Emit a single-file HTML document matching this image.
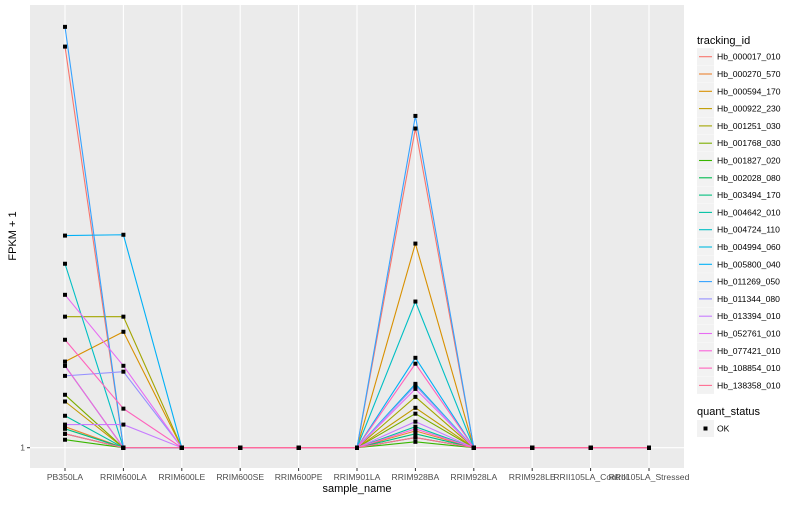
<!DOCTYPE html>
<html><head><meta charset="utf-8"><style>
body{margin:0;background:#fff;font-family:"Liberation Sans",sans-serif}
svg text{font-family:"Liberation Sans",sans-serif}
</style></head><body>
<svg id="c" width="800" height="500" xmlns="http://www.w3.org/2000/svg">
<rect x="0" y="0" width="800" height="500" fill="#fff"/>
<rect x="30" y="5" width="654" height="463" fill="#EBEBEB"/>
<g id="grid"></g><g id="lines"></g><g id="pts"></g><g id="axes"></g><g id="legend"></g>
</svg>
<script>
const categories=["PB350LA","RRIM600LA","RRIM600LE","RRIM600SE","RRIM600PE","RRIM901LA","RRIM928BA","RRIM928LA","RRIM928LE","RRII105LA_Control","RRII105LA_Stressed"];
const seriesNames=["Hb_000017_010","Hb_000270_570","Hb_000594_170","Hb_000922_230","Hb_001251_030","Hb_001768_030","Hb_001827_020","Hb_002028_080","Hb_003494_170","Hb_004642_010","Hb_004724_110","Hb_004994_060","Hb_005800_040","Hb_011269_050","Hb_011344_080","Hb_013394_010","Hb_052761_010","Hb_077421_010","Hb_108854_010","Hb_138358_010"];
const colors=["#F8766D","#EA8331","#D89000","#C09B00","#A3A500","#7CAE00","#39B600","#00BB4E","#00BF7D","#00C1A3","#00BFC4","#00BAE0","#00B0F6","#35A2FF","#9590FF","#C77CFF","#E76BF3","#FA62DB","#FF62BC","#FF6C91"];
const pb350=[96.5,6.0,21.5,12.0,32.2,13.6,2.9,4.3,5.5,8.6,44.8,20.5,51.5,101.2,18.1,6.5,37.4,20.5,26.7,4.3];
const rrim600la=[1,1,28.6,1,32.2,1,1,1,1,1,1,1,51.7,1,19.1,6.5,20.5,1,10.3,1];
const rrim928ba=[77.0,5.0,49.6,10.5,13.1,9.1,2.4,3.4,4.3,6.0,35.8,16.2,22.4,80.0,15.8,7.2,15.0,5.5,21.0,3.4];
const yTicks=[1];
const NS="http://www.w3.org/2000/svg";
function xS(i){return 65+i*58.4;}
function yS(v){return 447.7-(v-1)*4.2;}
function mk(tag,attrs,parent){const e=document.createElementNS(NS,tag);for(const k in attrs)e.setAttribute(k,attrs[k]);document.getElementById(parent).appendChild(e);return e;}
categories.forEach((c,i)=>{
  const g=mk('line',{x1:xS(i),x2:xS(i),y1:5,y2:468,stroke:'#fff','stroke-width':1.1},'grid');
  
  
  const t=mk('line',{x1:xS(i),x2:xS(i),y1:468,y2:471,stroke:'#333','stroke-width':1},'axes');
  
  
  const l=mk('text',{x:xS(i),y:480,'font-size':8.6,fill:'#4D4D4D','text-anchor':'middle'},'axes');
  l.textContent=c;
  
  
});
yTicks.forEach(v=>{
  const g=mk('line',{x1:30,x2:684,y1:yS(v),y2:yS(v),stroke:'#fff','stroke-width':1.1},'grid');
  
  
  const t=mk('line',{x1:27,x2:30,y1:yS(v),y2:yS(v),stroke:'#333'},'axes');
  
  
  const l=mk('text',{x:25,y:yS(v)+3,'font-size':8.6,fill:'#4D4D4D','text-anchor':'end'},'axes');
  l.textContent=String(v);
  
  
});
seriesNames.forEach((n,s)=>{
  const vals=categories.map((c,i)=>i===0?pb350[s]:i===1?rrim600la[s]:i===6?rrim928ba[s]:1);
  const p=mk('polyline',{points:vals.map((v,i)=>xS(i)+','+yS(v)).join(' '),fill:'none',stroke:colors[s],'stroke-width':1.1},'lines');
  
  
  vals.forEach((v,i)=>{
    const r=mk('rect',{x:xS(i)-2,y:yS(v)-2,width:4,height:4,fill:'#000'},'pts');
    
    
  });
  const ly=56.7+s*17.3;
  const kb=mk('rect',{x:697,y:ly-8.5,width:17,height:17,fill:'#F2F2F2'},'legend');
  
  
  const kl=mk('line',{x1:699,x2:712,y1:ly,y2:ly,stroke:colors[s],'stroke-width':1.1},'legend');
  
  
  const kt=mk('text',{x:717,y:ly+3,'font-size':8.6,fill:'#000'},'legend');
  kt.textContent=n;
  
  
});
let t=mk('text',{x:697,y:44,'font-size':11,fill:'#000'},'legend');t.textContent='tracking_id';


t=mk('text',{x:697,y:415,'font-size':11,fill:'#000'},'legend');t.textContent='quant_status';


let kb=mk('rect',{x:697,y:420,width:17,height:17,fill:'#F2F2F2'},'legend');


let ks=mk('rect',{x:703.5,y:426.5,width:4,height:4,fill:'#000'},'legend');


t=mk('text',{x:717,y:431.5,'font-size':8.6,fill:'#000'},'legend');t.textContent='OK';


t=mk('text',{x:357,y:492,'font-size':11,fill:'#000','text-anchor':'middle'},'axes');t.textContent='sample_name';


t=mk('text',{x:0,y:0,'font-size':11,fill:'#000','text-anchor':'middle',transform:'translate(16,236) rotate(-90)'},'axes');t.textContent='FPKM + 1';


</script>
</body></html>
